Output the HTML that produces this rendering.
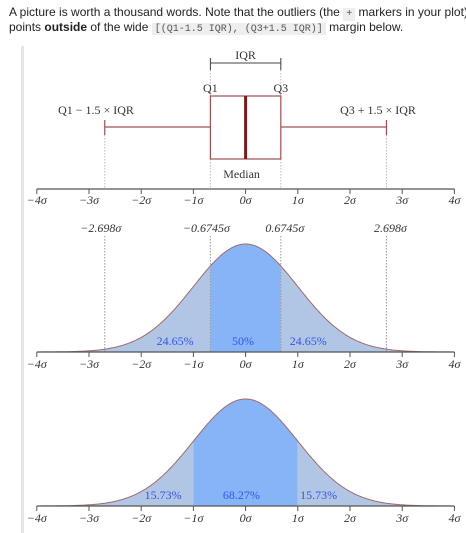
<!DOCTYPE html>
<html><head><meta charset="utf-8"><style>
body{margin:0;width:466px;height:533px;background:#fff;overflow:hidden;position:relative}
.intro{position:absolute;left:9px;top:5px;width:457px;overflow:hidden;font:12px "Liberation Sans",sans-serif;color:#222;line-height:15px;white-space:nowrap}
code{font:10px "Liberation Mono",monospace;background:#eee;padding:1px 3px;color:#555}
svg{position:absolute;left:0;top:0}
text{font-family:"Liberation Serif",serif;font-size:12px;fill:#333}
</style></head><body>
<div class="intro">A picture is worth a thousand words. Note that the outliers (the <code>+</code> markers in your plot) are s<br>points <b>outside</b> of the wide <code>[(Q1-1.5 IQR), (Q3+1.5 IQR)]</code> margin below.</div>
<svg id="c" width="466" height="533"></svg>
<script>
const ticks=[-4,-3,-2,-1,0,1,2,3,4];
const tickLabels=["−4σ","−3σ","−2σ","−1σ","0σ","1σ","2σ","3σ","4σ"];
const quartiles=[-0.6745,0,0.6745];
const whiskers=[-2.698,2.698];
const markerLabels=["−2.698σ","−0.6745σ","0.6745σ","2.698σ"];
const markerVals=[-2.698,-0.6745,0.6745,2.698];
const pdf1Bounds=[-0.6745,0.6745];
const pdf1Pcts=["24.65%","50%","24.65%"];
const pdf1PctX=[-1.35,-0.05,1.2];
const pdf2Bounds=[-1,1];
const pdf2Pcts=["15.73%","68.27%","15.73%"];
const pdf2PctX=[-1.58,-0.08,1.4];

const svg=document.getElementById('c');
const NS='http://www.w3.org/2000/svg';
const X=v=>245.6+v*52.2;
function el(t,a,name,txt){const e=document.createElementNS(NS,t);for(const k in a)e.setAttribute(k,a[k]);


if(txt!==undefined)e.textContent=txt;svg.appendChild(e);return e;}
el('rect',{x:21,y:46,width:3,height:487,fill:'#e6e6e6'},'left-border');
function axis(y,ly,name){
 el('line',{x1:X(-4),x2:X(4),y1:y,y2:y,stroke:'#555','stroke-width':1.2},name+'-line');
 ticks.forEach((t,i)=>{el('line',{x1:X(t),x2:X(t),y1:y,y2:y+5,stroke:'#555','stroke-width':1},name+'-tick');
  el('text',{x:X(t),y:ly,'text-anchor':'middle','font-style':'italic'},name+'-tick-label',tickLabels[i]);});
}
markerVals.forEach(v=>el('line',{x1:X(v),x2:X(v),y1:v==whiskers[0]||v==whiskers[1]?135:159,y2:189,stroke:'#bbb','stroke-dasharray':'1.5,1.5'},'guide-line'));
el('line',{x1:X(quartiles[0]),x2:X(quartiles[0]),y1:58,y2:96,stroke:'#bbb','stroke-dasharray':'1.5,1.5'},'guide-line');
el('line',{x1:X(quartiles[2]),x2:X(quartiles[2]),y1:58,y2:96,stroke:'#bbb','stroke-dasharray':'1.5,1.5'},'guide-line');
const bc='#a05050';
el('line',{x1:X(quartiles[0]),x2:X(quartiles[2]),y1:63,y2:63,stroke:'#444'},'iqr-bracket');
el('line',{x1:X(quartiles[0]),x2:X(quartiles[0]),y1:58,y2:70,stroke:'#444'},'iqr-cap');
el('line',{x1:X(quartiles[2]),x2:X(quartiles[2]),y1:58,y2:70,stroke:'#444'},'iqr-cap');
el('text',{x:X(0),y:59,'text-anchor':'middle','font-size':13},'iqr-label','IQR');
el('rect',{x:X(quartiles[0]),y:96,width:X(quartiles[2])-X(quartiles[0]),height:63,fill:'#fff',stroke:bc,'stroke-width':1.2},'box');
el('line',{x1:X(quartiles[1]),x2:X(quartiles[1]),y1:96,y2:159,stroke:'#7a1a1a','stroke-width':3},'median-line');
el('line',{x1:X(whiskers[0]),x2:X(quartiles[0]),y1:127,y2:127,stroke:bc,'stroke-width':1.2},'whisker-left');
el('line',{x1:X(quartiles[2]),x2:X(whiskers[1]),y1:127,y2:127,stroke:bc,'stroke-width':1.2},'whisker-right');
whiskers.forEach(w=>el('line',{x1:X(w),x2:X(w),y1:120,y2:135,stroke:bc,'stroke-width':1.2},'whisker-cap'));
el('text',{x:X(quartiles[0]),y:92,'text-anchor':'middle','font-size':13},'q1-label','Q1');
el('text',{x:X(quartiles[2]),y:92,'text-anchor':'middle','font-size':13},'q3-label','Q3');
el('text',{x:96,y:114,'text-anchor':'middle','font-size':13},'lower-fence-label','Q1 − 1.5 × IQR');
el('text',{x:378,y:114,'text-anchor':'middle','font-size':13},'upper-fence-label','Q3 + 1.5 × IQR');
el('text',{x:X(0)-4,y:178,'text-anchor':'middle','font-size':13},'median-label','Median');
axis(189,204,'axis-box');
markerVals.forEach((v,i)=>el('text',{x:X(v)-(v<0?4:-4),y:232,'text-anchor':'middle','font-style':'italic'},'marker-label',markerLabels[i]));
function pdf(v){return Math.exp(-v*v/2);}
function area(a,b,base,h,fill,name){let d='M'+X(a)+','+base;for(let v=a;v<=b+1e-9;v+=0.02)d+=' L'+X(v).toFixed(1)+','+(base-h*pdf(v)).toFixed(1);
 d+=' L'+X(b)+','+(base-h*pdf(b))+' L'+X(b)+','+base+'Z';el('path',{d,fill},name);}
function curve(base,h,bounds,pcts,pctX,name){
 area(-4,bounds[0],base,h,'#b1c6e4',name+'-tail-left');
 area(bounds[0],bounds[1],base,h,'#87b4f7',name+'-center');
 area(bounds[1],4,base,h,'#b1c6e4',name+'-tail-right');
 let d='';for(let v=-4;v<=4.001;v+=0.02)d+=(d?' L':'M')+X(v).toFixed(1)+','+(base-h*pdf(v)).toFixed(1);
 el('path',{d,fill:'none',stroke:'#a06a6a','stroke-width':1},name+'-curve');
 pcts.forEach((p,i)=>el('text',{x:X(pctX[i]),y:base-7,'text-anchor':'middle',style:'fill:#3355ee'},name+'-pct-label',p));
}
curve(352,108,pdf1Bounds,pdf1Pcts,pdf1PctX,'pdf-quartile');
markerVals.forEach(v=>el('line',{x1:X(v),x2:X(v),y1:236,y2:352,stroke:'#999','stroke-dasharray':'1.5,1.5'},'pdf-guide'));
axis(352,368,'axis-pdf1');
curve(506,107,pdf2Bounds,pdf2Pcts,pdf2PctX,'pdf-sigma');
axis(506,522,'axis-pdf2');
</script>
</body></html>
